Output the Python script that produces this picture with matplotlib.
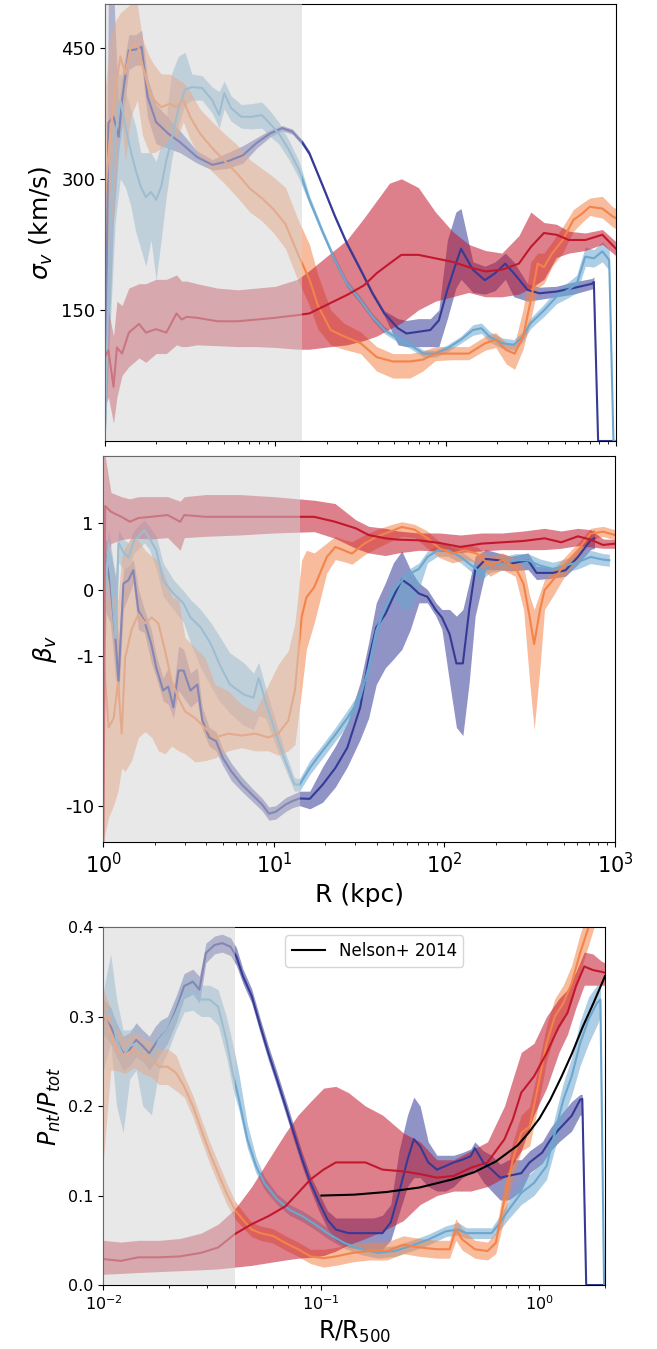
import numpy as np
import matplotlib
matplotlib.use("Agg")
import matplotlib.pyplot as plt
from matplotlib.ticker import NullLocator, FixedLocator, FixedFormatter

# Colours of the four runs
c_navy = '#363a96'
c_lblue = '#6ba7cf'
c_orange = '#f4834a'
c_red = '#c2182e'

# ---------------- sigma_v (km/s) vs log10 R(kpc) ----------------
nv_s_lr = [0.0, 0.02, 0.05, 0.08, 0.10, 0.14, 0.18, 0.215, 0.25, 0.30, 0.37, 0.44, 0.54, 0.63, 0.72, 0.81,
           0.89, 0.97, 1.04, 1.10, 1.16, 1.20, 1.28, 1.35, 1.42, 1.50, 1.57, 1.64, 1.72, 1.77, 1.84, 1.91,
           1.96, 2.01, 2.06, 2.09, 2.16, 2.23, 2.29, 2.35, 2.40, 2.48, 2.55, 2.65, 2.75, 2.86, 2.87, 2.895, 3.0]
nv_s = [20, 364, 371, 348, 390, 447, 448, 451, 394, 365, 352, 342, 325, 316, 320, 327, 341, 352, 358, 354,
        341, 329, 291, 257, 226, 196, 169, 146, 129, 123, 125, 127, 138, 173, 203, 220, 196, 184, 192, 203,
        192, 173, 169, 171, 175, 180, 182, 0, 0]
nv_s_lo = [0, 100, 250, 330, 360, 425, 430, 430, 370, 340, 335, 330, 318, 310, 312, 318, 335, 348, 355, 351,
           338, 326, 288, 254, 223, 193, 166, 143, 110, 108, 108, 108, 108, 140, 175, 185, 170, 168, 172, 185,
           165, 160, 162, 165, 168, 174, 176, 0, 0]
nv_s_hi = [40, 520, 520, 380, 420, 465, 465, 470, 415, 385, 370, 355, 332, 322, 330, 338, 347, 356, 361, 357,
           344, 332, 294, 260, 229, 199, 172, 149, 140, 138, 140, 140, 150, 230, 262, 266, 205, 200, 205, 215,
           205, 180, 176, 177, 182, 186, 188, 0, 0]

lb_s_lr = [0.0, 0.03, 0.06, 0.09, 0.12, 0.15, 0.18, 0.21, 0.24, 0.27, 0.30, 0.33, 0.36, 0.39, 0.43, 0.47,
           0.51, 0.57, 0.63, 0.67, 0.70, 0.74, 0.80, 0.86, 0.92, 0.96, 1.02, 1.08, 1.14, 1.20, 1.28, 1.35,
           1.42, 1.50, 1.57, 1.64, 1.72, 1.79, 1.87, 1.94, 2.01, 2.09, 2.16, 2.21, 2.26, 2.33, 2.40, 2.45,
           2.50, 2.58, 2.65, 2.72, 2.77, 2.80, 2.82, 2.87, 2.92, 2.96, 2.985, 3.0]
lb_s = [10, 250, 350, 390, 360, 333, 310, 291, 279, 285, 276, 291, 321, 344, 379, 402, 405, 404, 390, 373,
        398, 381, 371, 371, 373, 365, 352, 333, 310, 276, 238, 207, 180, 161, 142, 127, 117, 110, 100, 100,
        106, 116, 127, 129, 119, 112, 110, 119, 135, 150, 165, 173, 180, 199, 211, 209, 217, 207, 0, 0]
lb_s_lo = [0, 130, 250, 300, 290, 270, 240, 220, 200, 230, 184, 230, 280, 320, 360, 385, 390, 390, 375, 358,
           380, 366, 358, 357, 358, 350, 340, 322, 300, 271, 234, 203, 176, 157, 138, 123, 113, 106, 96, 96,
           102, 112, 121, 123, 113, 106, 104, 113, 129, 143, 157, 164, 170, 188, 200, 199, 205, 195, 0, 0]
lb_s_hi = [30, 330, 420, 420, 400, 380, 360, 330, 330, 330, 320, 340, 370, 420, 440, 445, 420, 418, 405, 400,
           412, 395, 385, 386, 388, 380, 365, 344, 320, 281, 242, 211, 184, 165, 146, 131, 121, 114, 104, 104,
           110, 120, 133, 135, 125, 118, 116, 125, 141, 157, 173, 182, 190, 210, 222, 219, 228, 219, 0, 0]

or_s_lr = [0.0, 0.03, 0.06, 0.09, 0.12, 0.15, 0.19, 0.22, 0.26, 0.29, 0.33, 0.38, 0.42, 0.46, 0.50, 0.557,
           0.63, 0.70, 0.78, 0.85, 0.92, 0.99, 1.06, 1.13, 1.20, 1.25, 1.325, 1.40, 1.50, 1.595, 1.69, 1.79,
           1.865, 1.94, 2.04, 2.135, 2.233, 2.294, 2.356, 2.405, 2.454, 2.50, 2.54, 2.577, 2.626, 2.687,
           2.75, 2.80, 2.846, 2.92, 2.98, 3.0]
or_s = [280, 350, 400, 440, 420, 450, 455, 430, 400, 390, 382, 386, 382, 390, 371, 352, 335, 321, 305, 289,
        278, 265, 248, 215, 185, 155, 127, 120, 112, 96, 91, 91, 93, 100, 100, 100, 112, 116, 104, 100,
        119, 161, 203, 199, 215, 230, 253, 260, 268, 266, 257, 255]
or_s_lo = [200, 230, 300, 380, 320, 370, 390, 350, 330, 330, 335, 345, 345, 365, 345, 325, 308, 295, 278, 262,
           252, 238, 220, 185, 155, 128, 110, 105, 100, 80, 72, 72, 80, 92, 93, 93, 104, 107, 88, 82,
           105, 140, 175, 180, 200, 215, 240, 250, 258, 255, 245, 243]
or_s_hi = [400, 460, 480, 490, 495, 500, 500, 460, 440, 430, 420, 420, 415, 410, 400, 380, 365, 352, 338, 322,
           312, 302, 290, 255, 225, 190, 150, 135, 125, 108, 100, 100, 103, 108, 108, 108, 120, 124, 112, 112,
           150, 205, 215, 215, 228, 245, 265, 272, 278, 280, 268, 266]

rd_s_lr = [0.0, 0.02, 0.05, 0.07, 0.10, 0.14, 0.20, 0.24, 0.30, 0.36, 0.42, 0.45, 0.48, 0.54, 0.66, 0.78,
           0.89, 1.0, 1.13, 1.20, 1.325, 1.42, 1.52, 1.595, 1.67, 1.74, 1.84, 1.94, 2.04, 2.135, 2.233, 2.33,
           2.43, 2.50, 2.577, 2.65, 2.724, 2.82, 2.92, 3.0]
rd_s = [96, 104, 62, 107, 100, 124, 134, 124, 128, 124, 146, 139, 142, 141, 137, 137, 139, 141, 144, 146,
        158, 167, 178, 192, 203, 213, 213, 209, 205, 199, 194, 196, 203, 222, 238, 236, 230, 230, 236, 220]
rd_s_lo = [40, 50, 20, 50, 75, 85, 95, 90, 100, 100, 110, 108, 108, 110, 109, 108, 108, 107, 105, 105,
           108, 110, 115, 120, 128, 135, 150, 160, 165, 170, 165, 165, 168, 175, 185, 210, 215, 218, 225, 212]
rd_s_hi = [150, 150, 120, 160, 155, 175, 180, 180, 185, 185, 190, 183, 183, 180, 175, 173, 175, 177, 185, 195,
           215, 230, 255, 275, 295, 300, 290, 262, 240, 225, 218, 215, 235, 262, 250, 248, 240, 238, 242, 228]

# ---------------- beta_v vs log10 R(kpc) ----------------
nv_b_lr = [0.0, 0.006, 0.04, 0.07, 0.088, 0.117, 0.146, 0.175, 0.205, 0.24, 0.28, 0.31, 0.35, 0.38, 0.41,
           0.44, 0.47, 0.51, 0.55, 0.58, 0.62, 0.66, 0.70, 0.75, 0.81, 0.87, 0.93, 0.97, 1.01, 1.07, 1.11,
           1.15, 1.21, 1.285, 1.36, 1.43, 1.506, 1.555, 1.60, 1.653, 1.70, 1.75, 1.80, 1.85, 1.90, 1.95,
           1.985, 2.03, 2.07, 2.108, 2.145, 2.18, 2.243, 2.316, 2.39, 2.49, 2.54, 2.636, 2.71, 2.783, 2.857, 2.88]
nv_b = [-0.5, 0.59, 0.09, -0.73, -1.47, 0.09, 0.14, 0.29, -0.32, -0.47, -0.82, -1.2, -1.7, -1.6, -2.2,
        -1.25, -1.25, -1.7, -1.55, -2.7, -3.5, -3.7, -4.8, -5.9, -7.2, -8.4, -9.8, -11.3, -11.0, -9.8, -9.3,
        -8.95, -9.0, -7.25, -5.6, -4.1, -2.2, -1.06, -0.57, -0.37, -0.11, 0.15, 0.06, -0.06, -0.11, -0.31,
        -0.42, -0.67, -1.12, -1.12, -0.31, 0.29, 0.46, 0.44, 0.39, 0.44, 0.25, 0.25, 0.29, 0.49, 0.74, 0.77]
nv_b_lo = [-1.5, -0.3, -0.5, -1.3, -2.0, -0.3, -0.1, 0.1, -0.6, -0.65, -1.1, -1.4, -2.0, -2.1, -2.6,
           -1.7, -1.9, -2.2, -2.0, -3.1, -4.0, -4.3, -5.4, -6.8, -8.0, -9.3, -10.8, -12.5, -12.3, -10.9, -10.3,
           -10.0, -10.5, -9.5, -7.5, -5.5, -3.6, -2.6, -1.55, -1.2, -1.05, -0.9, -0.6, -0.2, -0.2, -0.4,
           -0.6, -1.5, -3.0, -3.4, -1.5, -0.4, 0.3, 0.3, 0.28, 0.3, 0.15, 0.17, 0.2, 0.38, 0.6, 0.62]
nv_b_hi = [0.3, 0.8, 0.6, 0.2, -0.8, 0.3, 0.35, 0.45, 0.0, -0.3, -0.6, -1.0, -1.4, -1.2, -1.7,
           -0.85, -0.9, -1.3, -1.2, -2.2, -3.0, -3.2, -4.2, -5.2, -6.4, -7.6, -8.9, -10.2, -10.0, -8.8, -8.4,
           -8.0, -8.0, -5.5, -4.0, -2.8, -1.5, -0.8, -0.2, 0.1, 0.4, 0.58, 0.3, 0.1, 0.0, -0.2,
           -0.3, -0.3, -0.4, -0.3, 0.1, 0.5, 0.6, 0.55, 0.5, 0.55, 0.35, 0.33, 0.38, 0.6, 0.88, 0.9]

lb_b_lr = [0.0, 0.03, 0.07, 0.088, 0.12, 0.147, 0.18, 0.24, 0.27, 0.31, 0.35, 0.41, 0.47, 0.51, 0.57,
           0.63, 0.68, 0.74, 0.82, 0.88, 0.91, 0.95, 1.0, 1.06, 1.12, 1.15, 1.21, 1.285, 1.36, 1.43, 1.506,
           1.555, 1.60, 1.653, 1.70, 1.75, 1.80, 1.85, 1.90, 1.96, 2.02, 2.095, 2.17, 2.218, 2.267, 2.34,
           2.415, 2.49, 2.56, 2.636, 2.71, 2.783, 2.857, 2.93, 2.967]
lb_b = [-0.5, 0.70, -0.73, 0.70, 0.55, 0.48, 0.74, 0.89, 0.77, 0.59, 0.14, -0.06, -0.21, -0.42, -0.57,
        -0.82, -1.13, -1.54, -1.8, -1.9, -1.4, -2.0, -3.03, -4.8, -7.2, -7.25, -5.6, -4.3, -3.35, -2.6, -1.9,
        -1.19, -0.62, -0.27, -0.02, 0.14, 0.24, 0.31, 0.49, 0.59, 0.59, 0.49, 0.34, 0.24, 0.36, 0.39,
        0.44, 0.44, 0.36, 0.31, 0.36, 0.41, 0.49, 0.45, 0.44]
lb_b_lo = [-1.5, 0.3, -1.5, 0.4, 0.3, 0.3, 0.55, 0.7, 0.6, 0.3, -0.1, -0.3, -0.5, -0.8, -1.2,
           -1.6, -2.0, -2.4, -2.9, -3.1, -2.5, -2.6, -3.7, -5.5, -8.0, -8.0, -6.2, -4.8, -3.7, -2.9, -2.1,
           -1.35, -0.72, -0.35, -0.1, -0.3, -0.3, 0.0, 0.4, 0.5, 0.5, 0.4, 0.24, 0.14, 0.26, 0.29,
           0.34, 0.34, 0.26, 0.21, 0.26, 0.31, 0.39, 0.36, 0.35]
lb_b_hi = [0.3, 0.9, 0.2, 0.9, 0.75, 0.7, 0.9, 1.05, 0.95, 0.8, 0.4, 0.15, -0.02, -0.15, -0.3,
           -0.5, -0.7, -0.95, -1.1, -1.3, -1.1, -1.6, -2.5, -4.2, -6.5, -6.6, -5.0, -3.9, -3.0, -2.3, -1.7,
           -1.05, -0.52, -0.2, 0.05, 0.2, 0.32, 0.4, 0.58, 0.68, 0.68, 0.58, 0.44, 0.34, 0.46, 0.49,
           0.54, 0.54, 0.46, 0.41, 0.46, 0.51, 0.59, 0.54, 0.53]

or_b_lr = [0.0, 0.03, 0.06, 0.085, 0.107, 0.127, 0.165, 0.205, 0.244, 0.283, 0.322, 0.361, 0.40, 0.44,
           0.478, 0.537, 0.596, 0.654, 0.732, 0.81, 0.889, 0.967, 1.025, 1.084, 1.123, 1.162, 1.19, 1.236,
           1.31, 1.36, 1.41, 1.457, 1.53, 1.60, 1.68, 1.75, 1.825, 1.90, 1.97, 2.046, 2.12, 2.19, 2.267,
           2.34, 2.415, 2.464, 2.50, 2.526, 2.56, 2.587, 2.636, 2.71, 2.783, 2.857, 2.93, 3.0]
or_b = [-1.0, -3.0, -2.6, -1.5, -3.3, -1.03, -0.6, -0.37, -0.51, -0.42, -0.51, -0.92, -1.47, -1.91,
        -2.34, -2.6, -3.03, -3.5, -3.3, -3.4, -3.3, -3.5, -3.3, -2.7, -1.7, -0.42, -0.12, 0.035,
        0.49, 0.64, 0.59, 0.54, 0.69, 0.79, 0.87, 0.94, 0.90, 0.77, 0.62, 0.54, 0.59, 0.54, 0.36,
        0.44, 0.34, 0.085, -0.42, -0.82, -0.31, -0.01, 0.14, 0.39, 0.59, 0.84, 0.87, 0.82]
or_b_lo = [-17, -12, -9.9, -8, -5.6, -5.9, -5.0, -3.5, -3.2, -3.5, -4.3, -4.5, -4.0, -4.3,
           -4.5, -5.1, -5.0, -4.8, -4.3, -4.1, -4.3, -4.3, -4.6, -4.3, -3.9, -1.71, -0.9, -0.5,
           0.25, 0.45, 0.42, 0.38, 0.52, 0.62, 0.72, 0.8, 0.78, 0.62, 0.48, 0.4, 0.45, 0.4, 0.2,
           0.3, 0.2, -0.3, -1.5, -3.1, -1.2, -0.3, -0.1, 0.22, 0.45, 0.75, 0.8, 0.74]
or_b_hi = [0.6, 0.2, -0.1, -0.15, 0.5, 0.64, 0.79, 0.74, 0.59, 0.5, 0.44, 0.2, -0.11, -0.16,
           -0.72, -0.87, -1.02, -1.55, -1.71, -2.1, -2.34, -1.55, -1.14, -0.92, -0.5, 0.44, 0.59, 0.55,
           0.7, 0.8, 0.75, 0.72, 0.82, 0.9, 0.97, 1.02, 0.98, 0.88, 0.72, 0.64, 0.68, 0.64, 0.5,
           0.55, 0.46, 0.35, -0.1, -0.3, -0.05, 0.15, 0.3, 0.5, 0.7, 0.92, 0.95, 0.9]

rd_b_lr = [0.0, 0.01, 0.044, 0.105, 0.155, 0.204, 0.278, 0.376, 0.45, 0.474, 0.6, 0.8, 1.0, 1.236,
           1.358, 1.48, 1.555, 1.653, 1.727, 1.85, 1.97, 2.095, 2.218, 2.34, 2.464, 2.587, 2.685, 2.783,
           2.857, 2.93, 3.0]
rd_b = [-17.5, 1.3, 1.19, 1.10, 1.02, 1.08, 1.10, 1.13, 1.02, 1.13, 1.10, 1.10, 1.10, 1.10,
        1.02, 0.92, 0.82, 0.77, 0.75, 0.74, 0.70, 0.64, 0.69, 0.71, 0.73, 0.77, 0.71, 0.80, 0.75, 0.67, 0.69]
rd_b_lo = [-18, 0.4, 0.69, 0.75, 0.77, 0.77, 0.76, 0.78, 0.59, 0.78, 0.8, 0.82, 0.85, 0.87,
           0.77, 0.62, 0.55, 0.51, 0.55, 0.59, 0.58, 0.56, 0.58, 0.60, 0.60, 0.60, 0.62, 0.66, 0.64, 0.62, 0.62]
rd_b_hi = [2.8, 2.8, 1.6, 1.5, 1.45, 1.5, 1.5, 1.5, 1.4, 1.5, 1.55, 1.55, 1.5, 1.42,
           1.35, 1.05, 0.95, 0.92, 0.88, 0.85, 0.85, 0.82, 0.85, 0.85, 0.88, 0.92, 0.88, 0.92, 0.90, 0.76, 0.75]

# ---------------- P_nt/P_tot vs log10 R/R500 ----------------
nv_p_lx = [-2.0, -1.967, -1.94, -1.91, -1.88, -1.85, -1.82, -1.79, -1.76, -1.735, -1.706, -1.667, -1.63,
           -1.59, -1.56, -1.53, -1.49, -1.455, -1.417, -1.39, -1.36, -1.32, -1.28, -1.243, -1.204, -1.165,
           -1.127, -1.088, -1.05, -1.01, -0.972, -0.934, -0.876, -0.818, -0.76, -0.72, -0.682, -0.644,
           -0.605, -0.576, -0.547, -0.51, -0.47, -0.43, -0.393, -0.354, -0.315, -0.296, -0.257, -0.219,
           -0.18, -0.141, -0.083, -0.045, 0.013, 0.052, 0.09, 0.148, 0.187, 0.197, 0.215, 0.301]
nv_p = [0.300, 0.289, 0.274, 0.259, 0.263, 0.274, 0.267, 0.259, 0.270, 0.278, 0.285, 0.308, 0.334,
        0.339, 0.330, 0.371, 0.380, 0.382, 0.378, 0.367, 0.345, 0.323, 0.289, 0.259, 0.230, 0.200,
        0.170, 0.140, 0.114, 0.092, 0.073, 0.062, 0.058, 0.058, 0.058, 0.058, 0.070, 0.103,
        0.140, 0.163, 0.155, 0.137, 0.129, 0.133, 0.137, 0.140, 0.144, 0.153, 0.137, 0.129,
        0.120, 0.122, 0.125, 0.137, 0.148, 0.163, 0.174, 0.189, 0.207, 0.208, 0.0, 0.0]
nv_p_lo = [0.28, 0.27, 0.255, 0.24, 0.245, 0.255, 0.25, 0.24, 0.25, 0.26, 0.27, 0.293, 0.32,
           0.325, 0.315, 0.36, 0.37, 0.372, 0.368, 0.357, 0.337, 0.315, 0.281, 0.251, 0.222, 0.192,
           0.162, 0.132, 0.106, 0.082, 0.063, 0.05, 0.042, 0.04, 0.04, 0.04, 0.05, 0.08,
           0.11, 0.12, 0.12, 0.11, 0.105, 0.105, 0.11, 0.12, 0.125, 0.13, 0.115, 0.105,
           0.095, 0.095, 0.105, 0.125, 0.136, 0.15, 0.16, 0.172, 0.19, 0.19, 0.0, 0.0]
nv_p_hi = [0.32, 0.31, 0.293, 0.278, 0.282, 0.293, 0.285, 0.278, 0.29, 0.296, 0.3, 0.323, 0.348,
           0.353, 0.345, 0.382, 0.39, 0.392, 0.388, 0.377, 0.353, 0.331, 0.297, 0.267, 0.238, 0.208,
           0.178, 0.148, 0.122, 0.102, 0.083, 0.075, 0.075, 0.075, 0.075, 0.078, 0.09, 0.15,
           0.19, 0.21, 0.2, 0.16, 0.145, 0.145, 0.145, 0.148, 0.152, 0.16, 0.15, 0.145,
           0.135, 0.14, 0.14, 0.15, 0.16, 0.176, 0.188, 0.205, 0.213, 0.213, 0.0, 0.0]

lb_p_lx = [-2.0, -1.967, -1.94, -1.91, -1.88, -1.85, -1.82, -1.78, -1.745, -1.706, -1.667, -1.63, -1.59,
           -1.552, -1.513, -1.474, -1.436, -1.407, -1.378, -1.34, -1.30, -1.262, -1.204, -1.146, -1.088,
           -1.03, -0.972, -0.895, -0.818, -0.74, -0.663, -0.586, -0.508, -0.43, -0.373, -0.335, -0.277,
           -0.219, -0.18, -0.141, -0.083, -0.025, 0.033, 0.071, 0.11, 0.148, 0.187, 0.226, 0.264, 0.28,
           0.297, 0.301]
lb_p = [0.300, 0.308, 0.274, 0.256, 0.267, 0.270, 0.256, 0.252, 0.274, 0.285, 0.304, 0.326, 0.326,
        0.319, 0.319, 0.311, 0.274, 0.237, 0.207, 0.163, 0.133, 0.114, 0.096, 0.084, 0.077,
        0.068, 0.058, 0.047, 0.040, 0.036, 0.038, 0.044, 0.051, 0.060, 0.062, 0.058, 0.058,
        0.058, 0.070, 0.084, 0.103, 0.114, 0.133, 0.170, 0.207, 0.233, 0.270, 0.297, 0.315, 0.319,
        0.0, 0.0]
lb_p_lo = [0.24, 0.27, 0.2, 0.17, 0.23, 0.24, 0.2, 0.19, 0.24, 0.26, 0.285, 0.305, 0.307,
           0.3, 0.3, 0.29, 0.255, 0.22, 0.195, 0.153, 0.125, 0.107, 0.09, 0.078, 0.071,
           0.062, 0.052, 0.041, 0.034, 0.03, 0.032, 0.038, 0.045, 0.054, 0.056, 0.052, 0.052,
           0.052, 0.062, 0.074, 0.09, 0.1, 0.118, 0.152, 0.188, 0.212, 0.245, 0.27, 0.29, 0.3,
           0.0, 0.0]
lb_p_hi = [0.33, 0.37, 0.32, 0.285, 0.285, 0.29, 0.275, 0.27, 0.295, 0.3, 0.32, 0.345, 0.345,
           0.335, 0.335, 0.33, 0.3, 0.27, 0.235, 0.18, 0.143, 0.121, 0.102, 0.09, 0.083,
           0.074, 0.064, 0.053, 0.046, 0.042, 0.044, 0.05, 0.057, 0.066, 0.07, 0.064, 0.064,
           0.064, 0.078, 0.094, 0.116, 0.128, 0.148, 0.188, 0.226, 0.254, 0.295, 0.322, 0.335, 0.335,
           0.0, 0.0]

or_p_lx = [-2.0, -1.967, -1.94, -1.9, -1.86, -1.82, -1.78, -1.745, -1.706, -1.667, -1.63, -1.59, -1.552,
           -1.513, -1.474, -1.436, -1.397, -1.36, -1.32, -1.28, -1.223, -1.165, -1.107, -1.05, -0.99,
           -0.934, -0.856, -0.779, -0.70, -0.624, -0.547, -0.47, -0.412, -0.383, -0.354, -0.296, -0.238,
           -0.2, -0.16, -0.122, -0.083, -0.045, -0.006, 0.033, 0.071, 0.11, 0.148, 0.187, 0.226, 0.264, 0.301]
or_p = [0.304, 0.282, 0.263, 0.256, 0.263, 0.256, 0.252, 0.244, 0.244, 0.237, 0.222, 0.200, 0.174,
        0.148, 0.125, 0.103, 0.084, 0.073, 0.062, 0.058, 0.055, 0.047, 0.040, 0.032, 0.030,
        0.032, 0.036, 0.038, 0.038, 0.045, 0.042, 0.040, 0.040, 0.062, 0.051, 0.040, 0.038,
        0.047, 0.096, 0.140, 0.170, 0.177, 0.222, 0.270, 0.300, 0.315, 0.337, 0.371, 0.400, 0.434, 0.46]
or_p_lo = [0.14, 0.24, 0.24, 0.236, 0.243, 0.236, 0.232, 0.224, 0.224, 0.217, 0.21, 0.188, 0.162,
           0.136, 0.113, 0.091, 0.074, 0.064, 0.054, 0.05, 0.047, 0.039, 0.032, 0.024, 0.02,
           0.022, 0.026, 0.028, 0.028, 0.035, 0.032, 0.03, 0.03, 0.05, 0.039, 0.03, 0.028,
           0.035, 0.076, 0.12, 0.15, 0.155, 0.2, 0.25, 0.28, 0.295, 0.317, 0.35, 0.38, 0.41, 0.44]
or_p_hi = [0.33, 0.31, 0.285, 0.276, 0.283, 0.276, 0.272, 0.264, 0.264, 0.257, 0.234, 0.212, 0.186,
           0.16, 0.137, 0.115, 0.094, 0.082, 0.07, 0.066, 0.063, 0.055, 0.048, 0.04, 0.04,
           0.042, 0.046, 0.048, 0.048, 0.055, 0.052, 0.05, 0.05, 0.074, 0.063, 0.05, 0.048,
           0.059, 0.116, 0.16, 0.19, 0.199, 0.244, 0.29, 0.32, 0.335, 0.357, 0.392, 0.42, 0.456, 0.48]

rd_p_lx = [-2.0, -1.92, -1.84, -1.745, -1.65, -1.552, -1.474, -1.397, -1.32, -1.243, -1.165, -1.107,
           -1.05, -0.99, -0.934, -0.876, -0.798, -0.72, -0.624, -0.547, -0.47, -0.393, -0.315, -0.238,
           -0.16, -0.122, -0.083, -0.025, 0.033, 0.09, 0.129, 0.168, 0.206, 0.245, 0.284, 0.301]
rd_p = [0.029, 0.027, 0.031, 0.031, 0.032, 0.036, 0.042, 0.057, 0.068, 0.077, 0.088, 0.103,
        0.118, 0.129, 0.137, 0.137, 0.137, 0.129, 0.127, 0.124, 0.120, 0.122, 0.131, 0.137,
        0.163, 0.185, 0.215, 0.233, 0.259, 0.289, 0.304, 0.334, 0.356, 0.352, 0.350, 0.349]
rd_p_lo = [0.012, 0.013, 0.014, 0.015, 0.016, 0.017, 0.018, 0.02, 0.022, 0.025, 0.028, 0.03,
           0.031, 0.033, 0.038, 0.045, 0.052, 0.06, 0.072, 0.09, 0.1, 0.105, 0.105, 0.11,
           0.12, 0.135, 0.15, 0.19, 0.22, 0.26, 0.28, 0.31, 0.335, 0.335, 0.335, 0.335]
rd_p_hi = [0.05, 0.048, 0.05, 0.05, 0.052, 0.058, 0.068, 0.085, 0.11, 0.14, 0.17, 0.19,
           0.205, 0.22, 0.222, 0.215, 0.2, 0.19, 0.17, 0.16, 0.14, 0.14, 0.15, 0.16,
           0.2, 0.23, 0.26, 0.27, 0.3, 0.32, 0.33, 0.35, 0.372, 0.37, 0.362, 0.36]

nelson_lx = [-1.0, -0.85, -0.7, -0.55, -0.4, -0.3, -0.2, -0.1, -0.05, 0.0, 0.05, 0.1, 0.15, 0.2, 0.25, 0.301]
nelson = [0.100, 0.101, 0.104, 0.109, 0.118, 0.126, 0.138, 0.156, 0.170, 0.186, 0.207, 0.232, 0.259,
          0.289, 0.316, 0.345]

core_kpc = 14.3
core_r500 = 0.04


def band(ax, lx, mid, lo, hi, color):
    x = 10 ** np.array(lx)
    ax.fill_between(x, lo, hi, color=color, alpha=0.55, lw=0)
    ax.plot(x, mid, color=color, lw=1.5)


fig = plt.figure(figsize=(6.57, 13.49), dpi=100)
ax1 = fig.add_axes([0.1598, 0.6731, 0.7778, 0.3239])
ax2 = fig.add_axes([0.1575, 0.3758, 0.7785, 0.2861])
ax3 = fig.add_axes([0.1575, 0.0474, 0.7633, 0.2654])

# sigma panel
band(ax1, nv_s_lr, nv_s, nv_s_lo, nv_s_hi, c_navy)
band(ax1, lb_s_lr, lb_s, lb_s_lo, lb_s_hi, c_lblue)
band(ax1, or_s_lr, or_s, or_s_lo, or_s_hi, c_orange)
band(ax1, rd_s_lr, rd_s, rd_s_lo, rd_s_hi, c_red)
ax1.axvspan(1, core_kpc, color='lightgray', alpha=0.5, lw=0, zorder=5)
ax1.set_xscale('log')
ax1.set_xlim(1, 1000)
ax1.set_ylim(0, 500)
ax1.set_yticks([150, 300, 450])
ax1.tick_params(axis='y', labelsize=13)
ax1.tick_params(axis='x', labelbottom=False)
ax1.set_ylabel(r'$\sigma_v$ (km/s)', fontsize=18)

# beta panel
band(ax2, nv_b_lr, nv_b, nv_b_lo, nv_b_hi, c_navy)
band(ax2, lb_b_lr, lb_b, lb_b_lo, lb_b_hi, c_lblue)
band(ax2, or_b_lr, or_b, or_b_lo, or_b_hi, c_orange)
band(ax2, rd_b_lr, rd_b, rd_b_lo, rd_b_hi, c_red)
ax2.axvspan(1, core_kpc, color='lightgray', alpha=0.5, lw=0, zorder=5)
ax2.set_xscale('log')
ax2.set_xlim(1, 1000)
ax2.set_yscale('symlog', linthresh=1, linscale=0.4)
ax2.set_ylim(-17.5, 2.8)
ax2.yaxis.set_major_locator(FixedLocator([-10, -1, 0, 1]))
ax2.yaxis.set_major_formatter(FixedFormatter(['-10', '-1', '0', '1']))
ax2.yaxis.set_minor_locator(NullLocator())
ax2.tick_params(axis='y', labelsize=13)
ax2.tick_params(axis='x', labelsize=15)
ax2.set_ylabel(r'$\beta_v$', fontsize=18)
ax2.set_xlabel('R (kpc)', fontsize=18)

# pressure panel
band(ax3, nv_p_lx, nv_p, nv_p_lo, nv_p_hi, c_navy)
band(ax3, lb_p_lx, lb_p, lb_p_lo, lb_p_hi, c_lblue)
band(ax3, or_p_lx, or_p, or_p_lo, or_p_hi, c_orange)
band(ax3, rd_p_lx, rd_p, rd_p_lo, rd_p_hi, c_red)
ax3.plot(10 ** np.array(nelson_lx), nelson, color='black', lw=1.5, label='Nelson+ 2014')
ax3.axvspan(0.01, core_r500, color='lightgray', alpha=0.5, lw=0, zorder=5)
ax3.set_xscale('log')
ax3.set_xlim(0.01, 2)
ax3.set_ylim(0, 0.4)
ax3.set_yticks([0.0, 0.1, 0.2, 0.3, 0.4])
ax3.tick_params(axis='both', labelsize=11.5)
ax3.set_ylabel(r'$P_{nt}/P_{tot}$', fontsize=17)
ax3.set_xlabel(r'R/R$_{500}$', fontsize=17)
ax3.legend(loc='upper center', bbox_to_anchor=(0.54, 1.0), fontsize=12)

fig.savefig('out.png', dpi=100)
